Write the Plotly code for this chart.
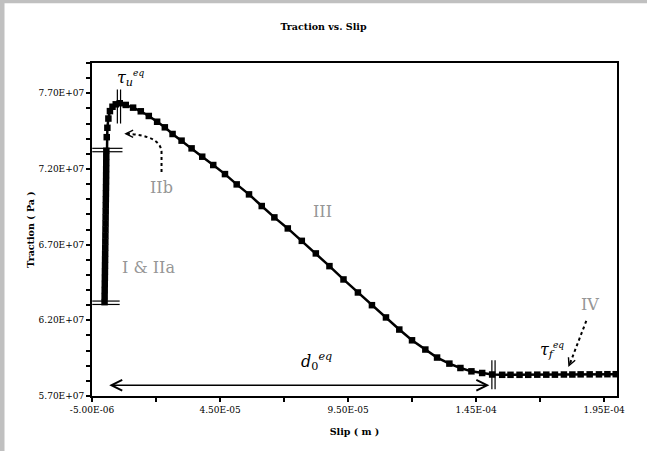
import plotly.graph_objects as go

# ---------------- data ----------------
# elastic loading part (I & IIa) : slip in m, traction in Pa
slip_elastic = [-0.10e-6, -0.07e-6, -0.04e-6, -0.01e-6, 0.02e-6, 0.05e-6, 0.08e-6, 0.11e-6,
                0.14e-6, 0.17e-6, 0.20e-6, 0.23e-6, 0.26e-6, 0.29e-6, 0.32e-6, 0.35e-6,
                0.38e-6, 0.41e-6, 0.44e-6, 0.47e-6, 0.50e-6, 0.52e-6, 0.54e-6, 0.56e-6,
                0.58e-6, 0.60e-6]
traction_elastic = [63.2e6, 63.6e6, 64.0e6, 64.4e6, 64.8e6, 65.2e6, 65.6e6, 66.0e6,
                    66.4e6, 66.8e6, 67.2e6, 67.6e6, 68.0e6, 68.4e6, 68.8e6, 69.2e6,
                    69.6e6, 70.0e6, 70.4e6, 70.8e6, 71.2e6, 71.6e6, 72.0e6, 72.4e6,
                    72.8e6, 73.2e6]

# softening (IIb, III) and residual (IV) part
slip_softening = [0.75e-6, 1.00e-6, 1.40e-6, 2.00e-6, 3.00e-6, 4.27e-6, 5.84e-6, 8.18e-6,
                  11.04e-6, 14.05e-6, 17.18e-6, 20.43e-6, 23.44e-6, 26.46e-6, 29.98e-6,
                  33.89e-6, 38.04e-6, 42.34e-6, 46.92e-6, 51.50e-6, 56.31e-6, 61.28e-6,
                  66.21e-6, 71.45e-6, 76.92e-6, 82.40e-6, 87.72e-6, 93.20e-6, 98.83e-6,
                  104.31e-6, 109.79e-6, 114.99e-6, 119.96e-6, 125.16e-6, 129.74e-6,
                  134.55e-6, 138.86e-6, 143.16e-6, 147.35e-6, 151.26e-6]
traction_softening = [74.10e6, 74.72e6, 75.33e6, 75.82e6, 76.11e6, 76.27e6, 76.34e6, 76.23e6,
                      76.05e6, 75.81e6, 75.50e6, 75.12e6, 74.75e6, 74.31e6, 73.87e6,
                      73.36e6, 72.81e6, 72.26e6, 71.66e6, 70.98e6, 70.32e6, 69.55e6,
                      68.80e6, 68.07e6, 67.25e6, 66.42e6, 65.58e6, 64.70e6, 63.84e6,
                      63.00e6, 62.19e6, 61.39e6, 60.68e6, 60.07e6, 59.54e6,
                      59.14e6, 58.85e6, 58.63e6, 58.52e6, 58.42e6]

slip_residual = [155.17e-6, 158.42e-6, 161.94e-6, 165.35e-6, 168.87e-6, 172.39e-6, 175.76e-6,
                 179.27e-6, 182.56e-6, 185.80e-6, 189.33e-6, 192.96e-6, 196.25e-6, 199.50e-6]
traction_residual = [58.40e6, 58.40e6, 58.40e6, 58.40e6, 58.41e6, 58.41e6, 58.41e6,
                     58.42e6, 58.42e6, 58.43e6, 58.43e6, 58.43e6, 58.44e6, 58.44e6]

# characteristic values
elastic_limit = 73.25e6       # top of I & IIa
initial_traction = 63.16e6    # bottom of I & IIa
d0_slip = 151.26e-6           # critical slip d0

# axis ticks
x_tickvals = [-5e-6, 45e-6, 95e-6, 145e-6, 195e-6]
x_ticktext = ["-5.00E-06", "4.50E-05", "9.50E-05", "1.45E-04", "1.95E-04"]
y_tickvals = [57e6, 62e6, 67e6, 72e6, 77e6]
y_ticktext = ["5.70E+07", "6.20E+07", "6.70E+07", "7.20E+07", "7.70E+07"]

# ---------------- figure ----------------
slip = slip_elastic + slip_softening + slip_residual
traction = traction_elastic + traction_softening + traction_residual
i_peak = traction.index(max(traction))
peak_slip, peak_traction = slip[i_peak], traction[i_peak]

W, H = 647, 451
ML, MR, MT, MB = 92, 30, 63, 55
PW, PH = W - ML - MR, H - MT - MB


def px(xp):
    return (xp - ML) / PW


def py(yp):
    return (H - MB - yp) / PH


SERIF = "DejaVu Serif"
GRAY = "#969696"

fig = go.Figure()
fig.add_trace(go.Scatter(
    x=slip, y=traction, mode="lines+markers",
    line=dict(color="black", width=2.5),
    marker=dict(symbol="square", size=6.5, color="black"),
    showlegend=False, hoverinfo="skip"))

shapes = []
# gray window frame (left and top)
shapes.append(dict(type="rect", xref="paper", yref="paper", x0=px(0), x1=px(4.5),
                   y0=py(H), y1=py(0), fillcolor="#c0c0c0", line=dict(width=0), layer="above"))
shapes.append(dict(type="rect", xref="paper", yref="paper", x0=px(0), x1=px(W),
                   y0=py(3.3), y1=py(0), fillcolor="#c0c0c0", line=dict(width=0), layer="above"))

# double vertical line at the peak (tau_u)
for off in (-1.6, 1.6):
    shapes.append(dict(type="line", xref="x", yref="y", xsizemode="pixel", xanchor=peak_slip,
                       x0=off - 0.8, x1=off - 0.8, y0=75.0e6, y1=77.25e6,
                       line=dict(color="black", width=1.2)))
# double vertical line at d0
for off in (-1.6, 1.6):
    shapes.append(dict(type="line", xref="x", yref="y", xsizemode="pixel", xanchor=d0_slip,
                       x0=off + 1.3, x1=off + 1.3, y0=57.44e6, y1=59.36e6,
                       line=dict(color="black", width=1.2)))
# double horizontal lines at the ends of I & IIa
for off in (-1.7, 1.7):
    shapes.append(dict(type="line", xref="x", yref="y", ysizemode="pixel", yanchor=elastic_limit,
                       y0=off, y1=off, x0=-4.9e-6, x1=6.9e-6,
                       line=dict(color="black", width=1.2)))
    shapes.append(dict(type="line", xref="x", yref="y", ysizemode="pixel", yanchor=initial_traction,
                       y0=off, y1=off, x0=-4.9e-6, x1=5.8e-6,
                       line=dict(color="black", width=1.2)))

# dotted arrow for IIb (curved)
p0 = (22.15e-6, 71.80e6)
p1 = (22.15e-6, 73.15e6)
pc = (21.6e-6, 74.25e6)
p2 = (7.6e-6, 74.33e6)
shapes.append(dict(type="path", xref="x", yref="y",
                   path=(f"M {p0[0]:.10f},{p0[1]:.1f} L {p1[0]:.10f},{p1[1]:.1f} "
                         f"Q {pc[0]:.10f},{pc[1]:.1f} {p2[0]:.10f},{p2[1]:.1f}"),
                   line=dict(color="black", width=2, dash="dot")))
# dotted arrow for IV
shapes.append(dict(type="line", xref="x", yref="y", x0=188.0e-6, y0=61.96e6, x1=181.3e-6, y1=59.0e6,
                   line=dict(color="black", width=2, dash="dot")))

annotations = []
# arrowheads of dotted arrows
annotations.append(dict(x=p2[0], y=p2[1], xref="x", yref="y", ax=7, ay=0, text="",
                        showarrow=True, arrowhead=5, arrowsize=1.1, arrowwidth=1.3,
                        arrowcolor="black", standoff=0))
annotations.append(dict(x=181.0e-6, y=58.92e6, xref="x", yref="y", ax=3, ay=-7, text="",
                        showarrow=True, arrowhead=5, arrowsize=1.1, arrowwidth=1.3,
                        arrowcolor="black", standoff=0))
# d0 double-headed arrow
annotations.append(dict(x=d0_slip - 1.1e-6, y=57.71e6, ax=1.14e-6, ay=57.71e6,
                        xref="x", yref="y", axref="x", ayref="y", text="",
                        showarrow=True, arrowhead=5, startarrowhead=5, arrowside="end+start",
                        arrowsize=1.4, startarrowsize=1.4, arrowwidth=1.5,
                        arrowcolor="black", standoff=0, startstandoff=0))

# region labels
for txt, xx, yy in [("I &amp; IIa", 17.18e-6, 65.51e6), ("IIb", 22.27e-6, 70.80e6),
                    ("III", 84.87e-6, 69.22e6), ("IV", 189.3e-6, 63.06e6)]:
    annotations.append(dict(x=xx, y=yy, xref="x", yref="y", text=txt, showarrow=False,
                            font=dict(family=SERIF, size=16, color=GRAY),
                            xanchor="center", yanchor="middle"))

# symbol labels
MATH = dict(family=SERIF, size=16, color="black")
SMALL = '<span style="font-size:9px">'
annotations.append(dict(x=4.0e-6, y=78.0e6, xref="x", yref="y", showarrow=False,
                        text=f"<i>τ</i><sub><i>u</i></sub><sup>{SMALL}<i>eq</i></span></sup>",
                        font=MATH, xanchor="left", yanchor="middle"))
annotations.append(dict(x=76.0e-6, y=59.3e6, xref="x", yref="y", showarrow=False,
                        text="<i>d</i><sub>0</sub><sup><i>eq</i></sup>",
                        font=MATH, xanchor="left", yanchor="middle"))
annotations.append(dict(x=169.2e-6, y=60.0e6, xref="x", yref="y", showarrow=False,
                        text=f"<i>τ</i><sub><i>f</i></sub><sup>{SMALL}<i>eq</i></span></sup>",
                        font=MATH, xanchor="left", yanchor="middle"))

AX = dict(showline=True, linecolor="black", linewidth=2, mirror=True,
          showgrid=False, zeroline=False, ticks="outside", ticklen=4, tickwidth=1.5,
          tickcolor="black", tickfont=dict(family=SERIF, size=9, color="black"))

fig.update_layout(
    width=W, height=H,
    margin=dict(l=ML, r=MR, t=MT, b=MB),
    paper_bgcolor="white", plot_bgcolor="white",
    title=dict(text="<b>Traction vs. Slip</b>", x=0.5, xref="container", xanchor="center",
               y=1 - 27 / H, yref="container", yanchor="middle",
               font=dict(family=SERIF, size=9.5, color="black")),
    xaxis=dict(range=[-5e-6, 2.0e-4], tickvals=x_tickvals, ticktext=x_ticktext,
               minor=dict(ticks="outside", ticklen=4, tickwidth=1.5, tickcolor="black",
                          tick0=-5e-6, dtick=2.5e-5, showgrid=False),
               title=dict(text="<b>Slip ( m )</b>", standoff=15,
                          font=dict(family=SERIF, size=9.5, color="black")),
               **AX),
    yaxis=dict(range=[57e6, 79e6], tickvals=y_tickvals, ticktext=y_ticktext,
               minor=dict(ticks="outside", ticklen=4, tickwidth=1.5, tickcolor="black",
                          tick0=57e6, dtick=1e6, showgrid=False),
               title=dict(text="<b>Traction ( Pa )</b>", standoff=2,
                          font=dict(family=SERIF, size=9.5, color="black")),
               **AX),
    shapes=shapes, annotations=annotations,
)

fig.write_html("out.html", config={"displayModeBar": False},
               post_script="document.body.style.margin='0';document.body.style.overflow='hidden';")
